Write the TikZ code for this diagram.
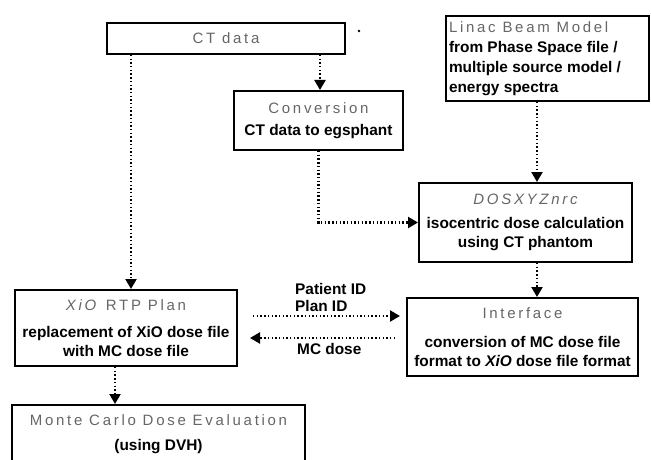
\documentclass[tikz,border=0pt]{standalone}
\usepackage{fontspec}
\setmainfont{Liberation Sans}
\newfontfamily\ttlfont[LetterSpace=18]{Liberation Sans}
\usetikzlibrary{arrows.meta}
\newcommand\ttl{\normalfont\ttlfont\fontsize{15}{19}\selectfont\color{black!60}}
\newcommand\bd{\normalfont\fontsize{15.4}{19}\selectfont\bfseries\color{black}}
\tikzset{
  box/.style={draw=black, line width=2pt, inner sep=0pt, align=center, font=\bd},
  dotarrow/.style={line width=2.2pt, dash pattern=on 1.4pt off 2.3pt,
    -{Triangle[width=11pt,length=10pt]}},
  lbl/.style={anchor=west, inner sep=0pt, font=\bd}
}
\begin{document}
\begin{tikzpicture}[x=1pt,y=-1pt]
\useasboundingbox (0,0) rectangle (651,460);
% boxes
\node[box, minimum width=238, minimum height=31] (ct) at (226,38.5) {\ttl CT data};
\node[box, minimum width=169, minimum height=59] (conv) at (318.5,120.5)
  {\ttl Conversion\\[3pt]\bd CT data to egsphant};
\node[box, minimum width=203, minimum height=85] (linac) at (547.5,58.5)
  {\makebox[197pt][l]{\renewcommand\arraystretch{1.05}\begin{tabular}{@{}l@{}}
   \ttl Linac Beam Model\\ \bd from Phase Space file /\\ \bd multiple source model /\\ \bd energy spectra
   \end{tabular}}};
\node[box, minimum width=213, minimum height=79] (dos) at (525.5,222.5)
  {\ttl\itshape DOSXYZnrc\\[5pt]\bd isocentric dose calculation\\\bd using CT phantom};
\node[box, minimum width=231, minimum height=78] (intf) at (522.5,337)
  {\ttl Interface\\[10pt]\bd conversion of MC dose file\\\bd format to \textit{XiO} dose file format};
\node[box, minimum width=222, minimum height=76] (xio) at (126,328)
  {\ttl\textit{XiO} RTP Plan\\[8pt]\bd replacement of XiO dose file\\\bd with MC dose file};
\node[box, minimum width=293, minimum height=59] (mc) at (158.5,434.5)
  {\ttl Monte Carlo Dose Evaluation\\[6pt]\bd (using DVH)};
% stray dot
\fill (359,31) circle (1.3pt);
% connectors
\draw[dotarrow] (131,0 |- ct.south) -- (131,0 |- xio.north);
\draw[dotarrow] (320,0 |- ct.south) -- (320,0 |- conv.north);
\draw[dotarrow] (conv.south) |- (dos.west);
\draw[dotarrow] (537,0 |- linac.south) -- (537,0 |- dos.north);
\draw[dotarrow] (537,0 |- dos.south) -- (537,0 |- intf.north);
\coordinate (r1) at (253,316);
\coordinate (r2) at (400,316);
\coordinate (l1) at (395,338);
\coordinate (l2) at (250,338);
\draw[dotarrow] (r1) -- (r2);
\draw[dotarrow] (l1) -- (l2);
\draw[dotarrow] (115,0 |- xio.south) -- (115,0 |- mc.north);
% labels
\node[lbl] (pid) at (295,289) {Patient ID};
\node[lbl] (plid) at (295,306) {Plan ID};
\node[lbl] (mcd) at (297,349) {MC dose};
\end{tikzpicture}
\end{document}
